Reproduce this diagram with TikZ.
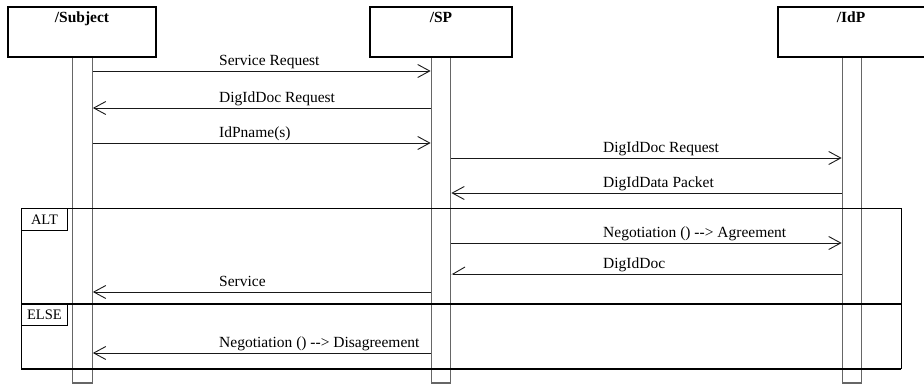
\documentclass[tikz,border=0pt]{standalone}
\usepackage{fontspec}
\setmainfont{Liberation Serif}
\usetikzlibrary{arrows.meta}

\tikzset{
  lbl/.style={font=\fontsize{15.5}{18}\selectfont, inner sep=0pt},
  headbox/.style={draw=black, line width=1.2pt, fill=white, minimum height=50pt, inner sep=0pt},
  headtxt/.style={lbl, font=\fontsize{15.5}{18}\selectfont\bfseries, anchor=base},
  lifebar/.style={draw=black!60, line width=1.2pt, fill=white, minimum width=19.5pt, minimum height=326pt, inner sep=0pt},
  msg/.style={draw=black!90, line width=0.9pt, -{Straight Barb[length=12pt,width=13pt,line width=0.9pt]}},
  halfmsg/.style={draw=black!90, line width=0.9pt, -{Straight Barb[harpoon,swap,length=12pt,width=14pt,line width=0.9pt]}},
  msgtxt/.style={lbl, anchor=base west},
  tag/.style={draw=black, line width=0.9pt, minimum width=46pt, inner sep=0pt, font=\fontsize{14.5}{17}\selectfont},
}

\begin{document}
\begin{tikzpicture}[x=1pt, y=-1pt]
\useasboundingbox (0,0) rectangle (924,385);

% lifeline bars
\node[lifebar] (subjbar) at (82.5,220) {};
\node[lifebar] (spbar)   at (441,220) {};
\node[lifebar] (idpbar)  at (852,220) {};

% participant heads
\node[headbox, minimum width=148pt] (subj) at (82,32) {};
\node[headbox, minimum width=142pt] (sp)   at (441,32) {};
\node[headbox, minimum width=150pt] (idp)  at (853,32) {};
\node[headtxt] (subjname) at (82,23) {/Subject};
\node[headtxt] (spname)   at (441,23) {/SP};
\node[headtxt] (idpname)  at (851,23) {/IdP};

% message levels
\coordinate (m1) at (0,71);
\coordinate (m2) at (0,108);
\coordinate (m3) at (0,143);
\coordinate (m4) at (0,158);
\coordinate (m5) at (0,193);
\coordinate (m6) at (0,243);
\coordinate (m7) at (0,274);
\coordinate (m8) at (0,292);
\coordinate (m9) at (0,353);

% messages
\draw[msg] (subjbar.east |- m1) -- (spbar.west |- m1);
\draw[msg] (spbar.west |- m2) -- (subjbar.east |- m2);
\draw[msg] (subjbar.east |- m3) -- (spbar.west |- m3);
\draw[msg] (spbar.east |- m4) -- (idpbar.west |- m4);
\draw[msg] (idpbar.west |- m5) -- (spbar.east |- m5);
\draw[msg] (spbar.east |- m6) -- (idpbar.west |- m6);
\draw[halfmsg] (idpbar.west |- m7) -- (spbar.east |- m7);
\draw[msg] (spbar.west |- m8) -- (subjbar.east |- m8);
\draw[msg] (spbar.west |- m9) -- (subjbar.east |- m9);

% message labels
\node[msgtxt] (t1) at (219,65.5) {Service Request};
\node[msgtxt] (t2) at (219,102.5) {DigIdDoc Request};
\node[msgtxt] (t3) at (219,137.5) {IdPname(s)};
\node[msgtxt] (t4) at (603,152.5) {DigIdDoc Request};
\node[msgtxt] (t5) at (603,187.5) {DigIdData Packet};
\node[msgtxt] (t6) at (603,237.5) {Negotiation () -{}-> Agreement};
\node[msgtxt] (t7) at (603,268.5) {DigIdDoc};
\node[msgtxt] (t8) at (219,286.5) {Service};
\node[msgtxt] (t9) at (219,347.5) {Negotiation () -{}-> Disagreement};

% combined fragment
\coordinate (ftl) at (21,208);
\coordinate (ftr) at (901,208);
\coordinate (fel) at (21,304);
\coordinate (fer) at (901,304);
\coordinate (fbl) at (21,369);
\coordinate (fbr) at (901,369);
\draw[line width=0.9pt] (fbl) -- (ftl) -- (ftr) -- (fbr);
\draw[line width=1.8pt] (fel) -- (fer);
\draw[line width=1.8pt] (fbl) -- (fbr);

\node[tag, minimum height=22pt, anchor=north west] (alt) at (21,208) {ALT};
\node[tag, minimum height=21pt, anchor=north west] (else) at (21,304) {ELSE};
\end{tikzpicture}
\end{document}
